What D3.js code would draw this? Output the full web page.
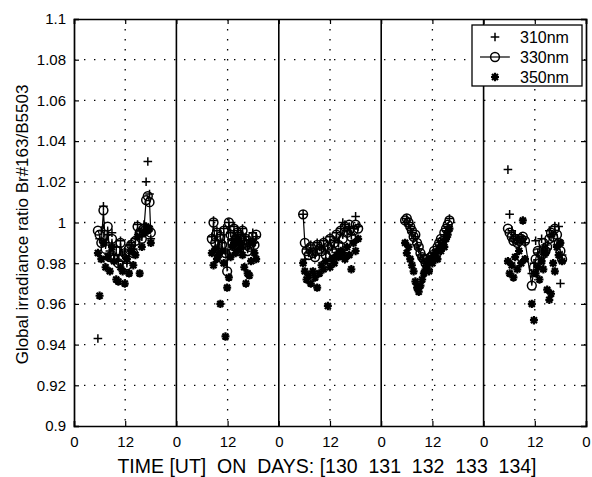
<!DOCTYPE html>
<html>
<head>
<meta charset="utf-8">
<script src="https://cdn.jsdelivr.net/npm/d3@7"></script>
<style>
  body { margin: 0; background: #fff; }
  svg text { font-family: "Liberation Sans", Arial, sans-serif; fill: #000; }
</style>
</head>
<body>
<svg id="canvas"></svg>
<script>
// days shown, hours are counted from 0 UT of day 130
const days = [130, 131, 132, 133, 134];
const yTicks = [0.9, 0.92, 0.94, 0.96, 0.98, 1, 1.02, 1.04, 1.06, 1.08, 1.1];
const seriesNames = ["310nm", "330nm", "350nm"];

// hour of day for each sample, one list per day
const hours = [
  [5.6, 6.0, 6.4, 6.9, 7.4, 7.9, 8.4, 8.9, 9.4, 9.9, 10.4, 10.9, 11.4, 11.9, 12.4, 12.9, 13.4, 13.9, 14.4, 14.9, 15.4, 15.9, 16.4, 16.9, 17.3, 17.7, 18.0],
  [8.3, 8.7, 9.1, 9.5, 9.9, 10.3, 10.7, 11.1, 11.5, 11.9, 12.3, 12.7, 13.1, 13.5, 13.9, 14.3, 14.7, 15.1, 15.5, 15.9, 16.3, 16.7, 17.1, 17.5, 17.9, 18.3, 18.7],
  [5.7, 6.1, 6.5, 7.0, 7.5, 8.0, 8.5, 9.0, 9.5, 10.0, 10.5, 11.0, 11.5, 12.0, 12.5, 13.0, 13.5, 14.0, 14.5, 15.0, 15.5, 16.0, 16.5, 17.0, 17.5, 18.0, 18.6],
  [5.6, 6.0, 6.4, 6.8, 7.2, 7.6, 8.0, 8.4, 8.8, 9.2, 9.6, 10.0, 10.4, 10.8, 11.2, 11.6, 12.0, 12.4, 12.8, 13.2, 13.6, 14.0, 14.4, 14.8, 15.2, 15.6, 16.0],
  [5.7, 6.1, 6.6, 7.0, 7.4, 7.9, 8.3, 8.8, 9.2, 9.7, 11.3, 11.8, 12.2, 12.7, 13.1, 13.6, 14.0, 14.5, 14.9, 15.4, 15.8, 16.3, 16.7, 17.2, 17.6, 18.0, 18.4]
];

const ratio310 = [
  [0.943, 0.992, 0.996, 1.008, 0.990, 0.994, 0.986, 0.995, 0.984, 0.988, 0.981, 0.991, 0.984, 0.986, 0.980, 0.989, 0.990, 0.987, 0.992, 0.999, 0.996, 0.993, 0.999, 1.020, 1.030, 1.014, 0.992],
  [0.993, 1.001, 0.991, 0.996, 0.988, 0.994, 0.990, 0.997, 0.986, 0.985, 1.000, 0.995, 0.991, 0.998, 0.993, 0.996, 0.989, 0.994, 0.997, 0.991, 0.993, 0.987, 0.989, 0.991, 0.995, 0.990, 0.993],
  [1.004, 0.982, 0.987, 0.985, 0.989, 0.986, 0.984, 0.990, 0.988, 0.987, 0.991, 0.985, 0.989, 0.993, 0.987, 0.991, 0.995, 0.990, 0.997, 1.000, 0.999, 0.996, 0.998, 0.994, 0.997, 1.003, 0.998],
  [1.000, 1.002, 0.999, 0.997, 0.995, 0.992, 0.993, 0.989, 0.987, 0.984, 0.982, 0.981, 0.979, 0.981, 0.980, 0.982, 0.983, 0.985, 0.983, 0.987, 0.989, 0.991, 0.990, 0.994, 0.996, 0.998, 1.002],
  [1.026, 1.004, 0.996, 0.992, 0.994, 0.991, 0.990, 0.993, 0.992, 0.990, 0.975, 0.980, 0.991, 0.985, 0.987, 0.992, 0.983, 0.989, 0.987, 0.996, 0.993, 0.994, 0.998, 0.989, 0.998, 0.970, 0.984]
];

const ratio330 = [
  [0.996, 0.994, 0.990, 1.006, 0.987, 0.998, 0.983, 0.992, 0.982, 0.986, 0.980, 0.990, 0.983, 0.985, 0.979, 0.987, 0.989, 0.985, 0.991, 0.998, 0.995, 0.992, 0.997, 1.011, 1.013, 1.010, 0.995],
  [0.992, 1.000, 0.990, 0.995, 0.987, 0.993, 0.989, 0.996, 0.985, 0.976, 1.000, 0.994, 0.990, 0.997, 0.992, 0.995, 0.988, 0.993, 0.996, 0.990, 0.992, 0.986, 0.988, 0.990, 0.993, 0.989, 0.994],
  [1.004, 0.990, 0.986, 0.984, 0.988, 0.985, 0.983, 0.989, 0.987, 0.986, 0.990, 0.984, 0.988, 0.992, 0.986, 0.990, 0.994, 0.989, 0.996, 0.992, 0.998, 0.995, 0.999, 0.993, 0.996, 0.999, 0.997],
  [1.001, 1.002, 1.000, 0.998, 0.996, 0.993, 0.994, 0.990, 0.988, 0.985, 0.983, 0.982, 0.980, 0.982, 0.981, 0.983, 0.984, 0.986, 0.984, 0.988, 0.990, 0.992, 0.991, 0.995, 0.997, 0.999, 1.001],
  [0.997, 0.995, 0.993, 0.991, 0.992, 0.990, 0.991, 0.992, 0.993, 0.991, 0.969, 0.978, 0.982, 0.986, 0.980, 0.984, 0.990, 0.986, 0.988, 0.992, 0.995, 0.993, 0.997, 0.994, 0.990, 0.986, 0.982]
];

const ratio350 = [
  [0.985, 0.964, 0.982, 0.990, 0.978, 0.983, 0.976, 0.988, 0.981, 0.972, 0.971, 0.978, 0.976, 0.970, 0.982, 0.975, 0.986, 0.979, 0.984, 0.993, 0.975, 0.988, 0.995, 0.998, 0.996, 0.997, 0.990],
  [0.985, 0.979, 0.987, 0.982, 0.984, 0.960, 0.986, 0.980, 0.944, 0.968, 0.973, 0.983, 0.988, 0.990, 0.985, 0.992, 0.987, 0.989, 0.984, 0.978, 0.970, 0.975, 0.974, 0.981, 0.990, 0.985, 0.982],
  [0.980, 0.976, 0.972, 0.974, 0.970, 0.976, 0.973, 0.968, 0.975, 0.979, 0.977, 0.981, 0.959, 0.978, 0.982, 0.980, 0.984, 0.983, 0.986, 0.985, 0.982, 0.988, 0.984, 0.977, 0.990, 0.986, 0.992],
  [0.990, 0.985, 0.988, 0.982, 0.979, 0.976, 0.971, 0.968, 0.966, 0.969, 0.972, 0.975, 0.977, 0.979, 0.976, 0.982, 0.980, 0.983, 0.985, 0.982, 0.987, 0.986, 0.989, 0.988, 0.992, 0.994, 0.997],
  [0.981, 0.975, 0.979, 0.973, 0.983, 0.977, 0.986, 0.980, 1.001, 0.982, 0.960, 0.952, 0.975, 0.978, 0.972, 0.981, 0.977, 0.985, 0.967, 0.962, 0.965, 0.980, 0.976, 0.988, 0.984, 0.990, 0.981]
];

const width = 592,
  height = 477,
  plotLeft = 74,
  plotRight = 586,
  plotTop = 19,
  plotBottom = 426;

const canvas = d3.select("#canvas").attr("width", width).attr("height", height);

const xScale = d3.scaleLinear().domain([0, 24 * days.length]).range([plotLeft, plotRight]);
const yScale = d3.scaleLinear().domain([0.9, 1.1]).range([plotBottom, plotTop]);

const xTickVals = d3.range(0, 24 * days.length + 1, 12);

// turn the per-day lists into points
const toPoints = (vals) =>
  vals.map((dayVals, d) => dayVals.map((v, i) => ({ t: d * 24 + hours[d][i], v: v })));
const pts310 = toPoints(ratio310);
const pts330 = toPoints(ratio330);
const pts350 = toPoints(ratio350);

// grid
const grid = canvas.append("g").attr("stroke", "#000").attr("stroke-width", 1.3)
  .attr("stroke-dasharray", "1.4,8.6");
grid.selectAll(".hg").data(yTicks.slice(1, -1)).join("line")
  .attr("x1", plotLeft).attr("x2", plotRight)
  .attr("y1", d => yScale(d)).attr("y2", d => yScale(d));
grid.selectAll(".vg").data(xTickVals.filter(d => d % 24 === 12)).join("line")
  .attr("y1", plotTop).attr("y2", plotBottom)
  .attr("x1", d => xScale(d)).attr("x2", d => xScale(d));

// solid day separators
canvas.append("g").selectAll("line").data(xTickVals.filter(d => d % 24 === 0 && d > 0 && d < 120))
  .join("line")
  .attr("x1", d => xScale(d)).attr("x2", d => xScale(d))
  .attr("y1", plotTop).attr("y2", plotBottom)
  .attr("stroke", "#000").attr("stroke-width", 1.6);

// axes, ticks pointing inward like matlab
const xAxis = d3.axisBottom(xScale).tickValues(xTickVals).tickSize(-5).tickPadding(10)
  .tickFormat(d => (d % 24 === 0 ? "0" : "12"));
const xAxisTop = d3.axisTop(xScale).tickValues(xTickVals).tickSize(-5).tickFormat("");
const yAxis = d3.axisLeft(yScale).tickValues(yTicks).tickSize(-5).tickPadding(8)
  .tickFormat(d => (d === 1 ? "1" : d3.format("~g")(d)));
const yAxisRight = d3.axisRight(yScale).tickValues(yTicks).tickSize(-5).tickFormat("");

const styleAxis = (g) => {
  g.select(".domain").attr("stroke", "#000").attr("stroke-width", 1.7);
  g.selectAll(".tick line").attr("stroke", "#000").attr("stroke-width", 1.2);
  g.selectAll(".tick text").attr("font-size", 15).attr("fill", "#000");
  g.attr("font-family", null);
};

canvas.append("g").attr("transform", `translate(0, ${plotBottom})`).call(xAxis).call(styleAxis);
canvas.append("g").attr("transform", `translate(0, ${plotTop})`).call(xAxisTop).call(styleAxis);
canvas.append("g").attr("transform", `translate(${plotLeft}, 0)`).call(yAxis).call(styleAxis);
canvas.append("g").attr("transform", `translate(${plotRight}, 0)`).call(yAxisRight).call(styleAxis);

// markers
const plusPath = "M-4.3,0H4.3M0,-4.3V4.3";
const starPath = "M-4,0H4M0,-4.2V4.2M-3,-3L3,3M-3,3L3,-3";

const line = d3.line().x(d => xScale(d.t)).y(d => yScale(d.v));
canvas.append("g").selectAll("path").data(pts330).join("path")
  .attr("d", line).attr("fill", "none").attr("stroke", "#000").attr("stroke-width", 1.2);

canvas.append("g").selectAll("circle").data(pts330.flat()).join("circle")
  .attr("cx", d => xScale(d.t)).attr("cy", d => yScale(d.v)).attr("r", 4.4)
  .attr("fill", "none").attr("stroke", "#000").attr("stroke-width", 1.5);

canvas.append("g").selectAll("path").data(pts310.flat()).join("path")
  .attr("transform", d => `translate(${xScale(d.t)},${yScale(d.v)})`)
  .attr("d", plusPath).attr("stroke", "#000").attr("stroke-width", 1.5);

canvas.append("g").selectAll("path").data(pts350.flat()).join("path")
  .attr("transform", d => `translate(${xScale(d.t)},${yScale(d.v)})`)
  .attr("d", starPath).attr("stroke", "#000").attr("stroke-width", 2.2);

// legend
const lg = canvas.append("g");
lg.append("rect").attr("x", 472).attr("y", 25).attr("width", 110).attr("height", 61)
  .attr("fill", "#fff").attr("stroke", "#000").attr("stroke-width", 1.3);
const legendRows = seriesNames.map((name, i) => ({ name: name, y: 37 + i * 20 }));
lg.selectAll("text").data(legendRows).join("text")
  .attr("x", 520).attr("y", d => d.y).attr("dy", "0.36em")
  .attr("font-size", 16).text(d => d.name);
lg.append("path").attr("d", plusPath).attr("transform", `translate(495,${legendRows[0].y})`)
  .attr("stroke", "#000").attr("stroke-width", 1.5);
lg.append("line").attr("x1", 480).attr("x2", 510)
  .attr("y1", legendRows[1].y).attr("y2", legendRows[1].y)
  .attr("stroke", "#000").attr("stroke-width", 1.2);
lg.append("circle").attr("cx", 495).attr("cy", legendRows[1].y).attr("r", 4.4)
  .attr("fill", "none").attr("stroke", "#000").attr("stroke-width", 1.5);
lg.append("path").attr("d", starPath).attr("transform", `translate(495,${legendRows[2].y})`)
  .attr("stroke", "#000").attr("stroke-width", 2.2);

// axis labels
canvas.append("text")
  .attr("x", 327).attr("y", 473)
  .attr("text-anchor", "middle").attr("font-size", 19.5)
  .attr("xml:space", "preserve")
  .text("TIME [UT]  ON  DAYS: [130  131  132  133  134]");

canvas.append("text")
  .attr("transform", `translate(28, ${(plotTop + plotBottom) / 2 + 2}) rotate(-90)`)
  .attr("text-anchor", "middle").attr("font-size", 17)
  .text("Global irradiance ratio Br#163/B5503");
</script>
</body>
</html>
